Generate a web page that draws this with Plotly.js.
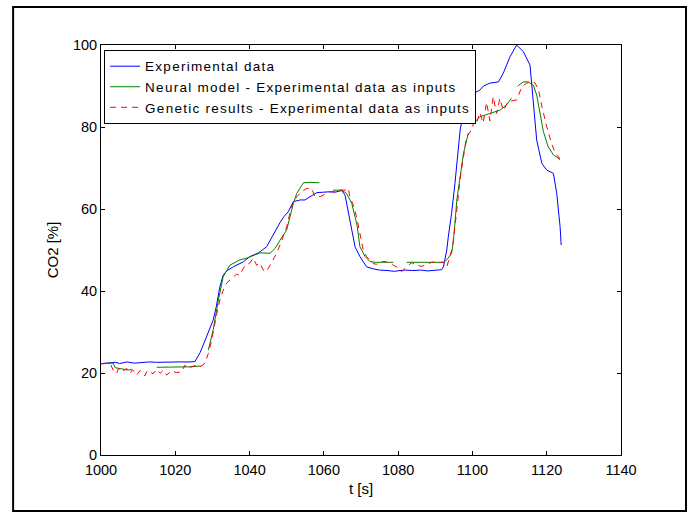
<!DOCTYPE html>
<html>
<head>
<meta charset="utf-8">
<script src="https://cdn.plot.ly/plotly-3.0.1.min.js"></script>
<style>
html,body{margin:0;padding:0;background:#fff;}
.legendtext{letter-spacing:1.25px;}
</style>
</head>
<body>
<div id="chart" style="width:691px;height:512px;"></div>
<script>
// Experimental data (blue)
const expT = [1000,1002,1004,1005,1007,1009,1011,1013,1015,1018,1021,1024,1025.3,1026.7,1028,1029,1030.2,1031,1032,1032.9,1034,1035.6,1037,1038.3,1040.1,1042.4,1044.6,1046,1047,1048.2,1049.3,1050.4,1051.8,1053.6,1054.9,1056.3,1058.1,1059.9,1061.5,1063,1064.8,1065.7,1066.6,1067.5,1068.4,1069.7,1071.5,1073.3,1075,1077,1079,1080.5,1082,1084,1086,1088,1090,1091.7,1092.2,1093.1,1093.5,1094.4,1095.3,1096.2,1096.7,1098,1100.3,1102,1103,1104.7,1107,1108.3,1110.1,1111.9,1113.7,1115.5,1116.4,1117.3,1118.7,1120,1121.8,1122.7,1123.6,1123.9];
const expV = [22.3,22.4,22.6,22.3,22.7,22.4,22.6,22.7,22.6,22.7,22.7,22.7,22.8,25,28,30.5,32.9,36,41,43.9,45,45.9,46.5,47.1,48.4,49.3,50.8,53.2,55,56.7,58.2,59.3,61.8,62.2,62.2,63,64,64.1,64.2,64.1,64.5,63.4,59,54.9,50.8,48.4,45.9,45.4,45.1,45,44.8,45,45.1,45,45.1,44.9,45.1,45.2,45.9,50,53.2,59,66.3,74.4,79.3,85.8,88.2,89,90,90.7,91,93.1,97.1,100,98.4,95.1,85,76.8,71.1,69.5,68.7,63.8,55.7,51.2];

// Neural model (green)
const nnT = [1000,1003.3,1003.8,1005.5,1007.4,1008.3,1011,1015,1019,1023.5,1026.9,1028,1028.9,1030.2,1031.6,1032.9,1034.7,1037.4,1039.2,1042.8,1045.5,1046.9,1048.2,1050,1051.8,1052.7,1054.5,1056.3,1058.8,1060.5,1062.5,1064.8,1066.1,1067.5,1068.4,1069,1069.7,1071.1,1072.4,1073.8,1076,1078.7,1080.5,1082.3,1086,1090,1092.2,1093.1,1094.4,1094.9,1095.8,1096.7,1097.6,1098.9,1099.8,1100.7,1102,1104.7,1107.4,1109.2,1110.5,1111.3,1112.2,1113.7,1115,1116.4,1117.3,1118.2,1119.1,1120.4,1121.8,1123.1,1123.6];
const nnV = [22.3,22.4,21.3,21,20.7,20.9,null,21.4,21.4,21.5,21.7,null,25.6,30.5,37.8,43.5,46.3,47.6,48,49.3,49.2,50.4,52.4,54.9,61.4,63.8,66.4,66.5,66.4,null,64.6,64.6,63.8,61.4,58.1,55.7,50.8,48.4,47.2,47,47,47,null,47,47,47,47,47.6,49.2,52.4,62.2,67.9,73.6,78.5,null,81.3,82.5,83.3,84.1,85.4,87,null,90,91,91,90.2,87.8,83.3,78.9,75.2,73.2,72.4,72.4];

// Genetic results (red dashed)
const gaT = [1000,1002.4,1003.3,1004.2,1004.7,1005.6,1006.9,1007.8,1008.5,1009.6,1010.5,1011.8,1012.4,1013.2,1014,1015,1015.9,1016.8,1017.7,1018.9,1020.4,1021.7,1022.6,1023.2,1024.4,1025.7,1026.7,1028,1028.9,1029.8,1031.2,1032,1032.9,1033.8,1035.2,1036.5,1037.3,1038.8,1039.8,1041,1041.9,1042.8,1043.7,1044.6,1045.5,1046.4,1047.3,1048.7,1050,1051.3,1052.7,1054,1055.4,1056.7,1057.6,1059,1060.3,1061.7,1063,1064.3,1065.7,1066.6,1067,1067.9,1068.8,1069.7,1070.6,1071.5,1072.4,1073.3,1074.2,1075.1,1076.5,1077.5,1078.7,1079.8,1080.9,1082.3,1083.6,1085,1086.4,1088.1,1089.5,1090.8,1092.2,1093.1,1094,1094.6,1095.3,1096,1096.7,1097.6,1098.4,1099.8,1100.5,1101.1,1102,1102.9,1103.8,1104.7,1105.6,1106.5,1107.4,1108.3,1109.6,1111.9,1113.3,1114.6,1116,1116.9,1117.8,1118.7,1120,1121.3,1122.3,1123.1,1123.8];
const gaV = [22.2,22.4,20.7,19.9,21.1,20.3,21.1,19.9,20.8,19.5,20.6,19.3,20.5,20.3,19.8,20.9,19.9,20.7,19.5,20.5,20.1,20.3,21.9,21.1,21.5,21.9,21.5,22.4,24.8,28,34.6,37.8,40.2,41.9,43.1,44.1,43.8,46.3,46.6,48,46.3,46.8,45.1,44.7,46.3,47.6,49.2,52.4,55.7,60.6,63,64.2,65,65,63,63,63.5,64.2,64.2,64.6,64.6,65,63,61,58.1,53.7,50,48.4,47.6,46.7,46.5,47.1,47.2,46.7,46.3,45.8,44.7,45.9,46.9,46.3,46,46.7,47.1,46.8,47.1,45.9,48.4,50.5,55.7,61.4,67.5,72.8,77.6,79.3,81.5,80.9,83.5,81,86,81.5,87.4,83.3,87,84,86.2,86.6,89.8,90.7,91.1,90.7,89,85,80.1,76,73.6,72.8,71.1,73.2];

const xTicks = [1000,1020,1040,1060,1080,1100,1120,1140];
const yTicks = [0,20,40,60,80,100];
const seriesNames = ['Experimental data','Neural model - Experimental data as inputs','Genetic results - Experimental data as inputs'];

const font = 'Liberation Sans, Arial, sans-serif';

const traces = [
  {x: expT, y: expV, name: seriesNames[0], type: 'scatter', mode: 'lines', line: {color: '#0000ff', width: 1}},
  {x: nnT, y: nnV, name: seriesNames[1], type: 'scatter', mode: 'lines', connectgaps: false, line: {color: '#008000', width: 1}},
  {x: gaT, y: gaV, name: seriesNames[2], type: 'scatter', mode: 'lines', line: {color: '#ff0000', width: 1, dash: '6px,5px'}}
];

const axisCommon = {
  showline: true, linecolor: '#000', linewidth: 1, mirror: 'ticks',
  ticks: 'inside', ticklen: 4, tickcolor: '#000', tickwidth: 1,
  showgrid: false, zeroline: false,
  tickfont: {family: font, size: 14.5, color: '#000'}
};

const layout = {
  width: 691, height: 512,
  margin: {l: 101, r: 70, t: 45, b: 57},
  paper_bgcolor: '#fff', plot_bgcolor: '#fff',
  font: {family: font, size: 14, color: '#000'},
  showlegend: true,
  legend: {
    x: 0.006, y: 0.988, xanchor: 'left', yanchor: 'top',
    bgcolor: '#fff', bordercolor: '#000', borderwidth: 1,
    font: {family: font, size: 13.5, color: '#000'},
    tracegroupgap: 0
  },
  xaxis: Object.assign({}, axisCommon, {
    range: [1000, 1140], tickvals: xTicks, ticktext: xTicks.map(String),
    ticklabelstandoff: 2,
    title: {text: 't [s]', font: {family: font, size: 15, color: '#000'}, standoff: 6}
  }),
  yaxis: Object.assign({}, axisCommon, {
    range: [0, 100], tickvals: yTicks, ticktext: yTicks.map(String),
    title: {text: 'CO2 [%]', font: {family: font, size: 15, color: '#000'}, standoff: 10}
  }),
  shapes: [
    {type: 'rect', xref: 'paper', yref: 'paper', x0: -0.169, x1: 1.125, y0: -0.1366, y1: 1.0927,
     line: {color: '#000', width: 2}, fillcolor: 'rgba(0,0,0,0)'}
  ]
};

Plotly.newPlot('chart', traces, layout, {displayModeBar: false, staticPlot: true});
</script>
</body>
</html>
